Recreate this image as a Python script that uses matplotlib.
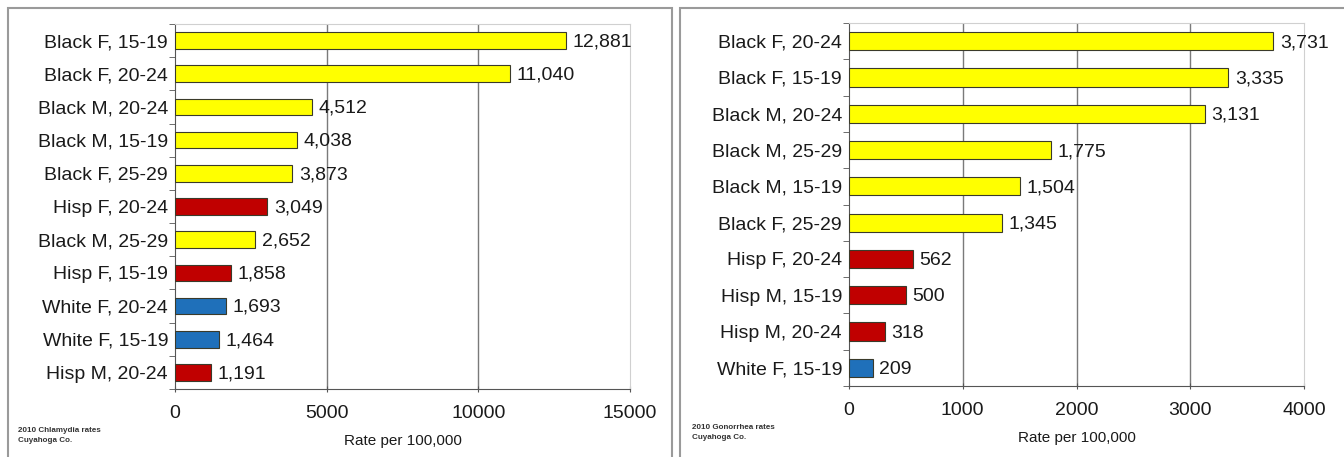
import numpy as np
import matplotlib
matplotlib.use('Agg')
import matplotlib.pyplot as plt
from matplotlib.patches import Rectangle

plt.rcParams['font.family'] = ['Liberation Sans', 'DejaVu Sans']

# chlamydia, 2010
chl_labels = ['Black F, 15-19', 'Black F, 20-24', 'Black M, 20-24', 'Black M, 15-19',
              'Black F, 25-29', 'Hisp F, 20-24', 'Black M, 25-29', 'Hisp F, 15-19',
              'White F, 20-24', 'White F, 15-19', 'Hisp M, 20-24']
chl_values = [12881, 11040, 4512, 4038, 3873, 3049, 2652, 1858, 1693, 1464, 1191]
chl_groups = ['Black', 'Black', 'Black', 'Black', 'Black', 'Hisp', 'Black', 'Hisp',
              'White', 'White', 'Hisp']

# gonorrhea, 2010
gon_labels = ['Black F, 20-24', 'Black F, 15-19', 'Black M, 20-24', 'Black M, 25-29',
              'Black M, 15-19', 'Black F, 25-29', 'Hisp F, 20-24', 'Hisp M, 15-19',
              'Hisp M, 20-24', 'White F, 15-19']
gon_values = [3731, 3335, 3131, 1775, 1504, 1345, 562, 500, 318, 209]
gon_groups = ['Black', 'Black', 'Black', 'Black', 'Black', 'Black', 'Hisp', 'Hisp',
              'Hisp', 'White']

colmap = {'Black': '#FFFF00', 'Hisp': '#C00000', 'White': '#1F70BA'}


def drawPanel(ax, labels, values, groups, xmax, xstep, note):
    n = len(labels)
    y = np.arange(n)
    cols = [colmap[g] for g in groups]
    ax.barh(y, values, height=0.5, color=cols, edgecolor='#3a3a2a', linewidth=0.8, zorder=3)
    for yi, v in zip(y, values):
        ax.text(v + xmax * 0.014, yi + 0.04, format(v, ','), va='center', ha='left',
                fontsize=14, color='#1a1a1a', zorder=4)
    ax.set_ylim(n - 0.5, -0.5)
    ax.set_xlim(0, xmax)
    ticks = np.arange(0, xmax + 1, xstep)
    ax.set_xticks(ticks)
    ax.set_xticklabels([str(t) for t in ticks], fontsize=14, color='#1a1a1a')
    for t in ticks[1:-1]:
        ax.axvline(t, color='#7a7a7a', lw=1.0, zorder=1)
    ax.set_yticks(y)
    ax.set_yticklabels(labels, fontsize=14, color='#1a1a1a')
    ax.set_yticks(np.arange(n + 1) - 0.5, minor=True)
    ax.tick_params(axis='y', which='major', length=0, pad=5)
    ax.tick_params(axis='y', which='minor', length=4, color='#555555', direction='out')
    ax.tick_params(axis='x', length=5, color='#555555', direction='inout', pad=9)
    ax.spines['left'].set_color('#555555')
    ax.spines['bottom'].set_color('#555555')
    ax.spines['top'].set_color('#d0d0d0')
    ax.spines['right'].set_color('#d0d0d0')
    ax.set_xlabel('Rate per 100,000', fontsize=11, color='#1a1a1a', labelpad=9)
    ax.text(-0.345, -0.105, note, transform=ax.transAxes, fontsize=5.8,
            va='top', ha='left', fontweight='bold', color='#333333', linespacing=1.6)


fig = plt.figure(figsize=(13.44, 4.57), dpi=100)
W, H = 1344.0, 457.0

# panel borders
fig.patches.append(Rectangle((8 / W, -0.1), (672 - 8) / W, 1.1 - 8 / H,
                             transform=fig.transFigure, fill=False,
                             edgecolor='#9a9a9a', lw=1.5))
fig.patches.append(Rectangle((680 / W, -0.1), 0.6, 1.1 - 8 / H,
                             transform=fig.transFigure, fill=False,
                             edgecolor='#9a9a9a', lw=1.5))

ax1 = fig.add_axes([175 / W, 1 - 389 / H, (630 - 175) / W, (389 - 24) / H])
drawPanel(ax1, chl_labels, chl_values, chl_groups, 15000, 5000,
          '2010 Chlamydia rates\nCuyahoga Co.')

ax2 = fig.add_axes([849 / W, 1 - 386 / H, (1304 - 849) / W, (386 - 23) / H])
drawPanel(ax2, gon_labels, gon_values, gon_groups, 4000, 1000,
          '2010 Gonorrhea rates\nCuyahoga Co.')

plt.savefig('out.png', dpi=100)
plt.close()
